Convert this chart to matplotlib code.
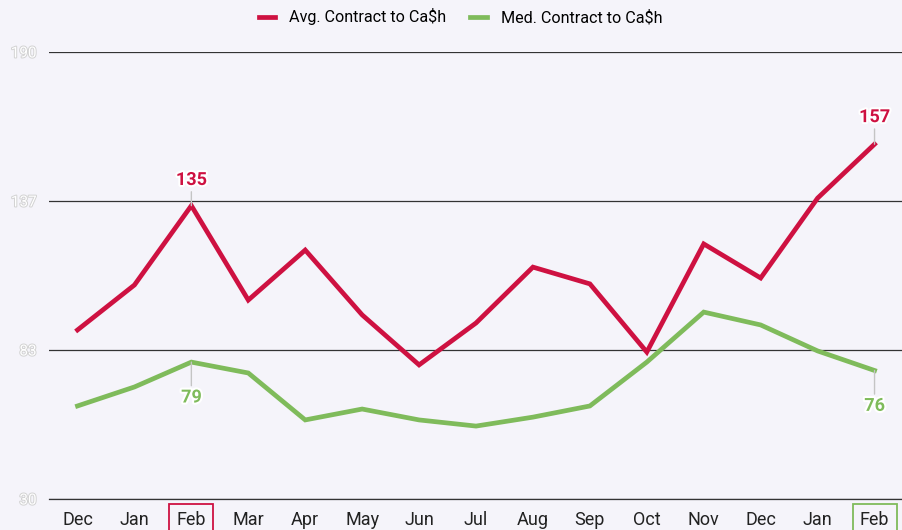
import matplotlib
import matplotlib.pyplot as plt
import matplotlib.patheffects as pe

months = ["Dec", "Jan", "Feb", "Mar", "Apr", "May", "Jun", "Jul",
          "Aug", "Sep", "Oct", "Nov", "Dec", "Jan", "Feb"]
avg_contract = [90.5, 106.6, 135, 101.2, 119.1, 95.9, 78, 93,
                113, 107, 82.6, 121.3, 109.1, 137.7, 157]
med_contract = [63.3, 70.1, 79, 75.1, 58.3, 62.2, 58.3, 56.1,
                59.3, 63.3, 79, 96.9, 92.3, 83, 76]
y_ticks = [30, 83.33, 136.67, 190]
y_tick_labels = ["30", "83", "137", "190"]

RED = "#CE1141"
GREEN = "#7FBB5B"
BG = "#F5F4FA"
LEADER = "#C4C4C4"
GRID = "#333333"

matplotlib.rcParams["font.family"] = ["Roboto", "DejaVu Sans"]

fig = plt.figure(figsize=(9.03, 5.30), dpi=100, facecolor=BG)
ax = fig.add_axes([0.0543, 0.0585, 0.9457, 0.8434])
ax.set_facecolor(BG)

x = list(range(len(months)))
ax.plot(x, avg_contract, color=RED, lw=3.4, solid_joinstyle="miter",
        label="Avg. Contract to Ca\\$h", zorder=3)
ax.plot(x, med_contract, color=GREEN, lw=3.4, solid_joinstyle="miter",
        label="Med. Contract to Ca\\$h", zorder=3)

ax.set_xlim(-0.5, len(months) - 0.5)
ax.set_ylim(30, 190)
ax.set_yticks(y_ticks)
ax.set_yticklabels(y_tick_labels)
ax.set_xticks(x)
ax.set_xticklabels(months)
ax.grid(axis="y", color=GRID, lw=0.9)
ax.set_axisbelow(True)
for side in ["top", "right", "left"]:
    ax.spines[side].set_visible(False)
ax.spines["bottom"].set_color(GRID)
ax.spines["bottom"].set_linewidth(0.9)
ax.tick_params(axis="both", length=0)
ax.tick_params(axis="x", labelsize=13, colors="#222222", pad=8.5)
ax.tick_params(axis="y", labelsize=11, pad=9)

outline = [pe.withStroke(linewidth=1.4, foreground="#D2D2D2")]
for lab in ax.get_yticklabels():
    lab.set_color("white")
    lab.set_path_effects(outline)

xlabels = ax.get_xticklabels()
xlabels[2].set_bbox(dict(boxstyle="square,pad=0.4", fc="none", ec=RED, lw=1.3))
xlabels[-1].set_bbox(dict(boxstyle="square,pad=0.4", fc="none", ec=GREEN, lw=1.3))

white_edge = [pe.withStroke(linewidth=3, foreground="white")]


def annotate_point(idx, values, color, dy):
    ax.annotate(
        f"{values[idx]:.0f}",
        xy=(idx, values[idx]),
        xytext=(0, dy),
        textcoords="offset points",
        ha="center",
        va="bottom" if dy > 0 else "top",
        fontsize=13,
        fontweight="bold",
        color=color,
        path_effects=white_edge,
        arrowprops=dict(arrowstyle="-", color=LEADER, lw=1,
                        shrinkA=0, shrinkB=0),
        zorder=4,
    )


annotate_point(2, avg_contract, RED, 12)
annotate_point(14, avg_contract, RED, 13)
annotate_point(2, med_contract, GREEN, -19)
annotate_point(14, med_contract, GREEN, -19)

fig.legend(loc="upper center", bbox_to_anchor=(0.51, 1.012), ncol=2,
           frameon=False, fontsize=11.6, handlelength=1.0, handletextpad=0.9,
           columnspacing=1.5)

fig.savefig("out.png", dpi=100, facecolor=BG)
